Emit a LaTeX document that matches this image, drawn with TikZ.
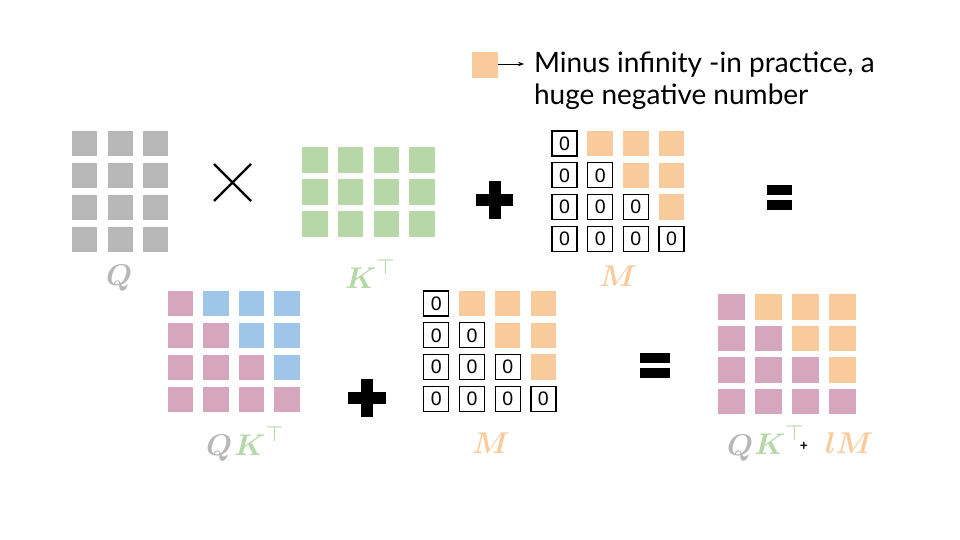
\documentclass[tikz,border=0pt]{standalone}
\usepackage{graphicx}
\usepackage{amsmath}
\usepackage{fontspec}
\newfontfamily\latofont{Lato}
\newfontfamily\zerofont{Liberation Sans}
\usetikzlibrary{arrows.meta}
\definecolor{qgray}{HTML}{B7B7B7}
\definecolor{kgreen}{HTML}{B6D7A8}
\definecolor{morange}{HTML}{F9CB9C}
\definecolor{cpink}{HTML}{D5A6BD}
\definecolor{cblue}{HTML}{9FC5E8}
\newcommand{\biglbl}[1]{\scalebox{3}{$#1$}}
\tikzset{
  cell/.style={minimum width=25.5pt, minimum height=25.5pt, inner sep=0pt, outer sep=0pt, draw=none},
  zerocell/.style={minimum width=25pt, minimum height=25pt, inner sep=0pt, outer sep=0pt, draw=black, line width=1.2pt, fill=white, font=\zerofont\fontsize{19.5}{20}\selectfont},
  lbl/.style={inner sep=0pt, outer sep=0pt, anchor=base west, font=\fontsize{10}{12}\selectfont},
  barfill/.style={fill=black, draw=none},
}
\begin{document}
\begin{tikzpicture}[x=1pt,y=-1pt]
\useasboundingbox (0,0) rectangle (960,540);
% legend
\node[cell, fill=morange, minimum height=26pt] (leg) at (485,65.3) {};
\coordinate (legend-tip) at (524,64);
\draw[line width=0.9pt, -{Stealth[length=6pt,width=4.5pt]}] (leg.east |- legend-tip) -- (legend-tip);
\node[inner sep=0pt, outer sep=0pt, anchor=base west, align=left, font=\latofont\fontsize{28}{32}\selectfont] (legtext) at (534,105) {Minus infinity -in practice, a\\huge negative number};
% Q matrix
\foreach \r in {0,...,3}{\foreach \c in {0,...,2}{
  \node[cell, fill=qgray, minimum width=25pt, minimum height=25pt] (q-\r-\c) at ({84.5+35.5*\c},{143.5+32*\r}) {};
}}
\node[lbl, text=qgray] (qlab) at (106,285) {\biglbl{\boldsymbol{Q}}};
% times
\coordinate (x1) at (214,164); \coordinate (x2) at (251,201);
\coordinate (x3) at (214,201); \coordinate (x4) at (251,164);
\draw[line width=2.4pt] (x1) -- (x2) (x3) -- (x4);
% K matrix
\foreach \r in {0,...,2}{\foreach \c in {0,...,3}{
  \node[cell, fill=kgreen, minimum height=26pt] (k-\r-\c) at ({315+35.7*\c},{159.7+32.2*\r}) {};
}}
\node[lbl, text=kgreen] (klab) at (345,288) {\biglbl{\boldsymbol{K}^{\top}}};
% plus top
\fill[barfill] (475.7,194) rectangle (513.3,205.5);
\fill[barfill] (488.5,180.7) rectangle (500.5,219);
% M top
\foreach \r in {0,...,3}{\foreach \c in {0,...,3}{
  \ifnum\c>\r
    \node[cell, fill=morange] (m-\r-\c) at ({564.5+35.67*\c},{143.5+31.8*\r}) {};
  \else
    \node[zerocell] (m-\r-\c) at ({564.5+35.67*\c},{143.5+31.8*\r}) {0};
  \fi
}}
\node[lbl, text=morange] (mlab) at (599,286) {\biglbl{\boldsymbol{M}}};
% equals top
\fill[barfill] (767,185.3) rectangle (791.7,195.3);
\fill[barfill] (767,200) rectangle (791.7,210);
% QK bottom
\foreach \r in {0,...,3}{\foreach \c in {0,...,3}{
  \ifnum\c>\r
    \node[cell, fill=cblue] (s-\r-\c) at ({180.5+35.5*\c},{303.7+31.9*\r}) {};
  \else
    \node[cell, fill=cpink] (s-\r-\c) at ({180.5+35.5*\c},{303.7+31.9*\r}) {};
  \fi
}}
\node[lbl, text=qgray] (sq) at (206,455) {\biglbl{\boldsymbol{Q}}};
\node[lbl, text=kgreen] (sk) at (234,455) {\biglbl{\boldsymbol{K}^{\top}}};
% plus bottom
\fill[barfill] (347.7,391.7) rectangle (385.7,404);
\fill[barfill] (361,378.7) rectangle (372.7,416.7);
% M bottom
\foreach \r in {0,...,3}{\foreach \c in {0,...,3}{
  \ifnum\c>\r
    \node[cell, fill=morange] (n-\r-\c) at ({436.3+35.7*\c},{303.5+31.8*\r}) {};
  \else
    \node[zerocell] (n-\r-\c) at ({436.3+35.7*\c},{303.5+31.8*\r}) {0};
  \fi
}}
\node[lbl, text=morange] (nlab) at (472,453) {\biglbl{\boldsymbol{M}}};
% equals bottom
\fill[barfill] (640,353.3) rectangle (670,362.7);
\fill[barfill] (640,368.3) rectangle (670,378);
% result
\foreach \r in {0,...,3}{\foreach \c in {0,...,3}{
  \ifnum\c>\r
    \node[cell, fill=morange, minimum width=26.5pt] (r-\r-\c) at ({731.3+37.1*\c},{307+31.5*\r}) {};
  \else
    \node[cell, fill=cpink, minimum width=26.5pt] (r-\r-\c) at ({731.3+37.1*\c},{307+31.5*\r}) {};
  \fi
}}
\node[lbl, text=qgray] (rq) at (727,455) {\biglbl{\boldsymbol{Q}}};
\node[lbl, text=kgreen] (rk) at (754,454) {\biglbl{\boldsymbol{K}^{\top}}};
\node[inner sep=0pt, font=\latofont\bfseries\fontsize{14}{14}\selectfont] (rplus) at (804,446.5) {+};
\node[lbl, text=morange] (rlm) at (825,453) {\biglbl{\boldsymbol{lM}}};
\end{tikzpicture}
\end{document}
